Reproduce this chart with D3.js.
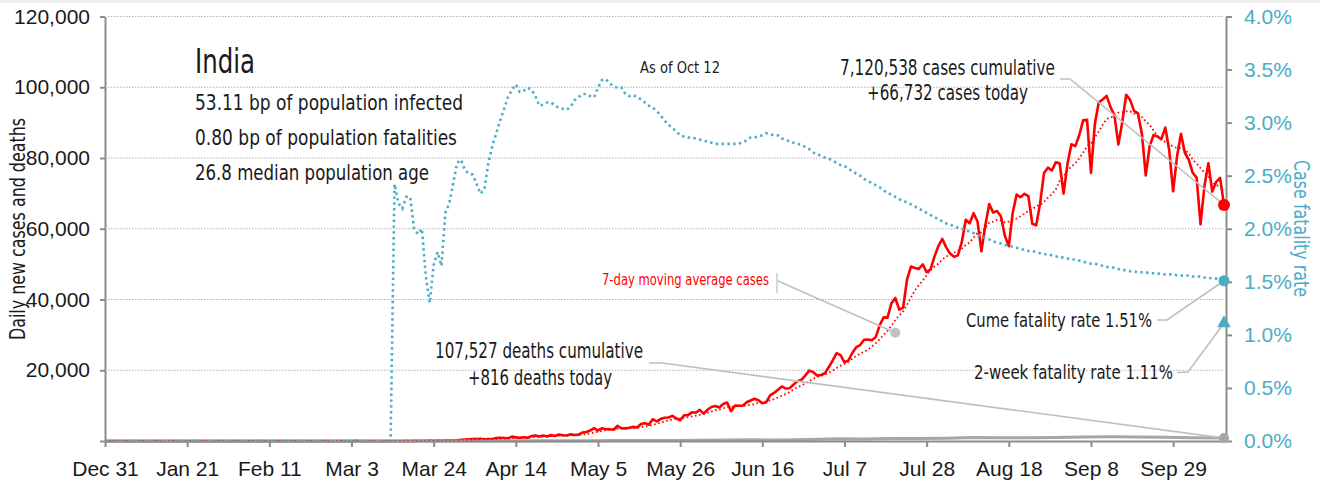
<!DOCTYPE html>
<html><head><meta charset="utf-8">
<script src="https://cdn.jsdelivr.net/npm/d3@7"></script>
<style>
body{margin:0;background:#fff;}
svg{display:block;font-family:"Liberation Sans Narrow","Arial Narrow","DejaVu Sans Condensed",sans-serif;}
</style></head><body>
<svg id="chart" width="1320" height="482"></svg>
<script>
// ---------- DATA ----------
const chartStart = "2019-12-31";
const chartEnd = "2020-10-12";
const xTickDates = ["2019-12-31","2020-01-21","2020-02-11","2020-03-03","2020-03-24","2020-04-14","2020-05-05","2020-05-26","2020-06-16","2020-07-07","2020-07-28","2020-08-18","2020-09-08","2020-09-29"];
const leftTicks = [0,20000,40000,60000,80000,100000,120000];
const rightTicks = [0,0.5,1,1.5,2,2.5,3,3.5,4];

// daily new cases, one value per day from casesStart
const casesStart = "2020-03-01";
const casesDaily = [
 0,2,1,22,2,1,3,5,4,6,11,10,9,20,11,6,23,14,38,50,86,66,103,37,121,70,160,100,112,227,309,
 424,486,560,579,609,484,573,565,813,871,854,758,1243,1031,886,1061,922,1371,1580,1239,1537,1292,1667,1408,1835,1607,1568,1902,1705,1801,
 2396,2564,2952,3656,2971,3602,3344,3339,3175,4311,3592,3562,3726,3991,3808,4794,5050,4628,6147,5553,6198,6568,6629,7111,6414,5843,7293,7300,8105,7964,8789,
 7723,8821,9633,9889,9471,10438,10864,8442,9987,9985,9996,10956,11458,11929,11502,10667,10974,12881,13586,14516,15413,14821,14933,15968,16922,17296,18552,19906,19459,18522,
 18653,19148,20903,22771,24850,24248,22252,22752,24879,26506,27114,28637,28701,28498,29429,32695,34956,34884,38902,40425,37148,37724,45720,49310,48916,48661,49931,47704,48513,52123,55078,
 57118,54735,52972,52050,52509,56282,62538,61537,64399,62064,53601,60963,66999,64553,65002,63490,57981,55079,64531,69652,68898,69878,69239,61408,60975,67151,75760,77266,76472,78761,78512,
 69921,78357,83883,83341,86432,90632,90802,75809,89706,95735,96551,97570,94372,92071,83809,90123,97894,96424,93337,92605,86961,75083,83347,86508,86052,85362,88600,82170,70589,80472,
 86821,81484,79476,75829,74442,61267,72049,78524,70496,73272,74383,66732
];

// case fatality rate (%), one value per day from cfrStart
const cfrStart = "2020-03-13";
const cfrPct = [
 0,2.42,2.24,2.19,2.30,2.30,2.00,1.95,2.00,1.55,
 1.30,1.66,1.78,1.65,2.15,2.24,2.43,2.62,2.65,2.55,
 2.52,2.51,2.42,2.33,2.38,2.62,2.78,2.90,3.02,3.13,
 3.24,3.31,3.36,3.29,3.30,3.33,3.31,3.25,3.16,3.17,
 3.19,3.19,3.16,3.14,3.13,3.12,3.15,3.21,3.24,3.27,
 3.27,3.25,3.24,3.33,3.40,3.41,3.37,3.34,3.33,3.33,
 3.27,3.25,3.26,3.24,3.22,3.19,3.16,3.14,3.11,3.07,
 3.02,2.98,2.95,2.92,2.88,2.87,2.86,2.86,2.85,2.84,
 2.83,2.82,2.81,2.80,2.80,2.80,2.80,2.80,2.80,2.80,
 2.82,2.83,2.86,2.86,2.87,2.88,2.90,2.89,2.88,2.88,
 2.85,2.84,2.82,2.81,2.80,2.79,2.77,2.75,2.72,2.70,
 2.69,2.67,2.66,2.64,2.62,2.60,2.59,2.57,2.54,2.52,
 2.50,2.47,2.45,2.43,2.41,2.39,2.36,2.34,2.32,2.30,
 2.28,2.26,2.25,2.23,2.21,2.19,2.17,2.15,2.13,2.11,
 2.09,2.07,2.05,2.04,2.02,2.01,2.00,1.99,1.97,1.96,
 1.94,1.93,1.91,1.90,1.88,1.87,1.86,1.85,1.84,1.83,
 1.82,1.81,1.80,1.79,1.79,1.78,1.77,1.76,1.76,1.75,
 1.74,1.73,1.73,1.72,1.71,1.71,1.70,1.69,1.68,1.67,
 1.67,1.66,1.65,1.64,1.64,1.63,1.62,1.61,1.61,1.60,
 1.60,1.59,1.59,1.59,1.58,1.58,1.58,1.57,1.57,1.57,
 1.57,1.56,1.56,1.56,1.56,1.55,1.55,1.55,1.54,1.54,
 1.53,1.53,1.52,1.51
];

// daily deaths (sampled weekly)
const deathDates = ["2020-03-01","2020-03-15","2020-03-29","2020-04-05","2020-04-12","2020-04-19","2020-04-26","2020-05-03","2020-05-10","2020-05-17","2020-05-24","2020-05-31","2020-06-07","2020-06-14","2020-06-21","2020-06-28","2020-07-05","2020-07-12","2020-07-19","2020-07-26","2020-08-02","2020-08-09","2020-08-16","2020-08-23","2020-08-30","2020-09-06","2020-09-13","2020-09-20","2020-09-27","2020-10-04","2020-10-12"];
const deathsDaily = [0,1,6,20,35,40,50,80,110,120,150,230,260,320,310,410,610,550,680,700,800,1000,950,900,960,1100,1200,1130,1040,940,816];

// latest figures
const latestCases = 66732;
const latestDeaths = 816;
const cumeCfr = 1.51;
const twoWeekCfr = 1.11;
const maMarkerDate = "2020-07-20";
const maMarkerValue = 30600;

// ---------- CHART ----------
const parse = d3.timeParse("%Y-%m-%d");
const svg = d3.select("#chart");
const RED = "#ff0000", BLUE = "#4bacc6", GRAY = "#8c8c8c", LGRAY = "#bfbfbf";

svg.append("rect").attr("x",0).attr("y",0).attr("width",1320).attr("height",3).attr("fill","#f0f0f0");

const x = d3.scaleTime().domain([parse(chartStart), parse(chartEnd)]).range([105, 1224]);
const yL = d3.scaleLinear().domain([0,120000]).range([441,16.5]);
const yR = d3.scaleLinear().domain([0,4]).range([441,16.5]);

// gridlines
svg.append("g").selectAll("line").data(leftTicks.filter(d=>d>0)).join("line")
  .attr("x1",108).attr("x2",1223).attr("y1",d=>yL(d)).attr("y2",d=>yL(d))
  .attr("stroke","#b3b3b3").attr("stroke-width",1).attr("stroke-dasharray","1.5,1.5");

// series
const cStart = parse(casesStart);
const cases = [{date:parse(chartStart), v:0}].concat(casesDaily.map((v,i)=>({date:d3.timeDay.offset(cStart,i), v})));
const ma = [{date:parse(chartStart), v:0}].concat(casesDaily.map((v,i)=>({date:d3.timeDay.offset(cStart,i), v:d3.mean(casesDaily.slice(Math.max(0,i-6), i+1))})));
const fStart = parse(cfrStart);
const cfr = [{date:parse(chartStart), v:0}].concat(cfrPct.map((v,i)=>({date:d3.timeDay.offset(fStart,i), v})));
const deaths = [{date:parse(chartStart), v:0}].concat(deathDates.map((d,i)=>({date:parse(d), v:deathsDaily[i]})));

const lineL = d3.line().x(d=>x(d.date)).y(d=>yL(d.v));
const lineR = d3.line().x(d=>x(d.date)).y(d=>yR(d.v));

svg.append("path").datum(cases).attr("d",lineL).attr("fill","none").attr("stroke",RED).attr("stroke-width",2.6).attr("stroke-linejoin","round");
svg.append("path").datum(deaths).attr("d",lineL).attr("fill","none").attr("stroke","#a6a6a6").attr("stroke-width",3).attr("stroke-linejoin","round");
svg.append("path").datum(ma).attr("d",lineL).attr("fill","none").attr("stroke",RED).attr("stroke-width",1.8).attr("stroke-dasharray","1.6,2.6");
svg.append("path").datum(cfr).attr("d",lineR).attr("fill","none").attr("stroke",BLUE).attr("stroke-width",2.6).attr("stroke-dasharray","2.4,3.4");

// axes
const fmtL = d3.format(",");
const gL = svg.append("g").attr("transform","translate(105,0)")
  .call(d3.axisLeft(yL).tickValues(leftTicks).tickSize(5).tickSizeOuter(0).tickPadding(10).tickFormat(d=>d===0?"":fmtL(d)));
const gR = svg.append("g").attr("transform","translate(1226,0)")
  .call(d3.axisRight(yR).tickValues(rightTicks).tickSize(6).tickSizeOuter(0).tickPadding(12).tickFormat(d=>d3.format(".1f")(d)+"%"));
const gX = svg.append("g").attr("transform","translate(0,441)")
  .call(d3.axisBottom(x).tickValues(xTickDates.map(parse)).tickSize(6).tickSizeOuter(0).tickFormat(d3.timeFormat("%b %-d")));
[gL,gR,gX].forEach(g=>{
  g.select(".domain").attr("stroke",GRAY).attr("stroke-width",2);
  g.selectAll(".tick line").attr("stroke",GRAY).attr("stroke-width",2);
  g.selectAll("text").attr("font-family",null).attr("font-size",21);
});
gL.selectAll("text").attr("fill","#1a1a1a");
gR.selectAll("text").attr("fill",BLUE);
gX.selectAll("text").attr("fill","#1a1a1a").attr("y",35).attr("dy",0);

// axis titles
svg.append("text").attr("transform","translate(25,229) rotate(-90)").attr("text-anchor","middle")
  .attr("font-size",21).attr("fill","#1a1a1a").attr("textLength",222).attr("lengthAdjust","spacingAndGlyphs").text("Daily new cases and deaths");
svg.append("text").attr("transform","translate(1294,228.5) rotate(90)").attr("text-anchor","middle")
  .attr("font-size",21).attr("fill",BLUE).attr("textLength",137).attr("lengthAdjust","spacingAndGlyphs").text("Case fatality rate");

// text helper
function txt(s, xx, yy, size, len, anchor, color){
  return svg.append("text").attr("x",xx).attr("y",yy).attr("font-size",size).attr("fill",color||"#1a1a1a")
    .attr("text-anchor",anchor||"start").attr("textLength",len).attr("lengthAdjust","spacingAndGlyphs").text(s);
}
txt("India",195,73,34,60);
txt("53.11 bp of population infected",195,110,22,268);
txt("0.80 bp of population fatalities",195,145,22,262);
txt("26.8 median population age",195,180,22,234);
txt("As of Oct 12",680,73,16,80,"middle");

// leader lines + markers
const endX = x(parse(chartEnd));
function leader(pts){
  svg.append("path").attr("d",d3.line()(pts)).attr("fill","none").attr("stroke",LGRAY).attr("stroke-width",1.6);
}
leader([[1060,79],[1070,79],[endX,yL(latestCases)]]);
leader([[649,363],[662,363],[endX,yL(latestDeaths)]]);
leader([[1157,320],[1167,320],[endX,yR(cumeCfr)]]);
leader([[1177,372.5],[1188,372],[endX,yR(twoWeekCfr)]]);
leader([[778,281],[x(parse(maMarkerDate)),yL(maMarkerValue)]]);
svg.append("line").attr("x1",777).attr("x2",777).attr("y1",273).attr("y2",293).attr("stroke",LGRAY).attr("stroke-width",1.2);

txt("7,120,538 cases cumulative",947.5,75,21,215,"middle");
txt("+66,732 cases today",947.5,100,21,161,"middle");
txt("107,527 deaths cumulative",539,358,21,208,"middle");
txt("+816 deaths today",540,385,21,144,"middle");
txt("7-day moving average cases",769,285,15,167,"end",RED);
txt("Cume fatality rate 1.51%",1152,327,20,186,"end");
txt("2-week fatality rate 1.11%",1173,379,20,199,"end");

svg.append("circle").attr("cx",x(parse(maMarkerDate))).attr("cy",yL(maMarkerValue)).attr("r",5).attr("fill","#c0c0c0");
svg.append("circle").attr("cx",endX).attr("cy",yL(latestDeaths)).attr("r",5).attr("fill","#a6a6a6");
svg.append("circle").attr("cx",endX).attr("cy",yL(latestCases)).attr("r",6).attr("fill",RED);
svg.append("circle").attr("cx",endX).attr("cy",yR(cumeCfr)).attr("r",5.5).attr("fill",BLUE);
svg.append("path").attr("d",d3.symbol(d3.symbolTriangle,80)()).attr("transform",`translate(${endX},${yR(twoWeekCfr)})`).attr("fill",BLUE);
</script>
</body></html>
